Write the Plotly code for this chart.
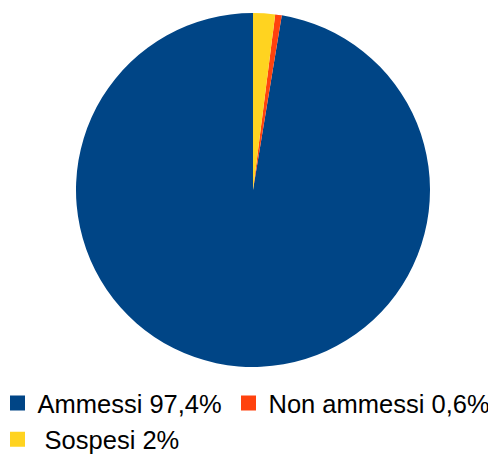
import plotly.graph_objects as go

labels = ["Ammessi 97,4%", "Non ammessi 0,6%", " Sospesi 2%"]
values = [97.4, 0.6, 2.0]
colors = ["#004586", "#ff420e", "#ffd320"]
legend_ids = ["legend", "legend2", "legend"]

fig = go.Figure(go.Pie(
    labels=labels, values=values, sort=False, direction="counterclockwise",
    rotation=360 * (100 - values[0]) / 100,
    domain=dict(x=[0, 486 / 494], y=[0, 1]),
    marker=dict(colors=colors, line=dict(width=0)), textinfo="none", hoverinfo="label",
    showlegend=False,
))
for lab, col, leg in zip(labels, colors, legend_ids):
    fig.add_trace(go.Scatter(
        x=[None], y=[None], mode="markers", name=lab, legend=leg, showlegend=True,
        marker=dict(symbol="square", size=15, color=col, line=dict(width=0)),
        hoverinfo="skip",
    ))

fig.update_layout(
    width=496, height=449, autosize=False,
    margin=dict(l=2, r=0, t=5, b=90, autoexpand=False),
    paper_bgcolor="white", plot_bgcolor="white",
    font=dict(family="Liberation Sans, Arial, sans-serif", size=25.5, color="#000000"),
    xaxis=dict(visible=False), yaxis=dict(visible=False),
    legend=dict(orientation="v", x=-12.5 / 494, xanchor="left", y=-0.0367, yanchor="top",
                bgcolor="rgba(0,0,0,0)", borderwidth=0),
    legend2=dict(orientation="v", x=0.4423, xanchor="left", y=-0.0367, yanchor="top",
                 bgcolor="rgba(0,0,0,0)", borderwidth=0, font=dict(size=25.5)),
)
fig.write_html("out.html")
